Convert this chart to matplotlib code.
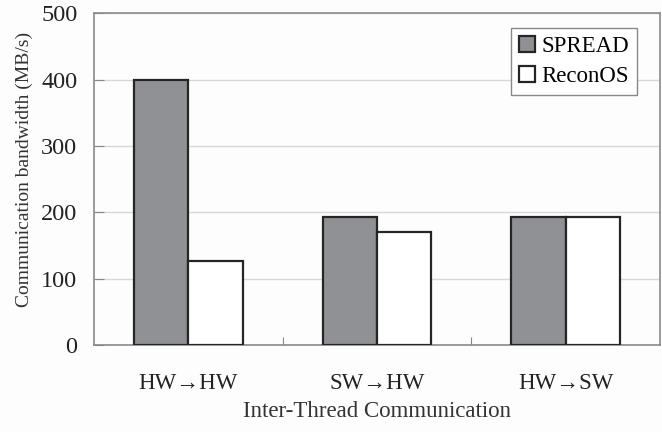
import numpy as np
import matplotlib.pyplot as plt

plt.rcParams['font.family'] = ['Liberation Serif', 'DejaVu Serif']

# data
categories = ['HW→HW', 'SW→HW', 'HW→SW']
spread = [400, 193, 193]
reconos = [127, 171, 193]

fig = plt.figure(figsize=(6.62, 4.32), dpi=100)
fig.patch.set_facecolor('#fdfdfd')
ax = fig.add_axes([0.142, 0.2014, 0.855, 0.768])
ax.set_facecolor('#fdfdfd')

x = np.arange(len(categories))
w = 0.288
ax.bar(x - w / 2, spread, w, color='#909194', edgecolor='#252525', linewidth=1.6,
       label='SPREAD', zorder=3)
ax.bar(x + w / 2, reconos, w, color='white', edgecolor='#252525', linewidth=1.6,
       label='ReconOS', zorder=3)

ax.set_xlim(-0.5, 2.5)
ax.set_ylim(0, 500)
ax.set_yticks([0, 100, 200, 300, 400, 500])
ax.yaxis.grid(True, color='#d8d8d8', linewidth=1.0, zorder=0)

# category labels at centres, tick marks at boundaries
ax.set_xticks([0.5, 1.5])
ax.set_xticklabels([])
ax.set_xticks(x, minor=True)
ax.set_xticklabels(categories, minor=True, fontsize=16.5)
ax.tick_params(axis='x', which='minor', length=0, pad=20)
ax.tick_params(axis='x', which='major', direction='in', length=6, color='#888888')
ax.tick_params(axis='y', direction='in', length=7, color='#888888', labelsize=17.5, pad=12)

for s in ax.spines.values():
    s.set_color('#8a8a8a')
    s.set_linewidth(1.2)

ax.set_ylabel('Communication bandwidth (MB/s)', fontsize=14, color='#333333')
ax.yaxis.set_label_coords(-0.108, 0.53)
ax.set_xlabel('Inter-Thread Communication', fontsize=16.5, color='#333333', labelpad=5)
for lbl in ax.get_xticklabels(minor=True) + ax.get_yticklabels():
    lbl.set_color('#222222')

leg = ax.legend(loc='upper right', bbox_to_anchor=(0.96, 0.955), fontsize=16.5,
                frameon=True, fancybox=False, handlelength=0.7, handleheight=0.7,
                handletextpad=0.3, borderpad=0.35, labelspacing=0.4, borderaxespad=0)
leg.get_frame().set_edgecolor('#888888')
leg.get_frame().set_linewidth(1.0)
leg.get_frame().set_facecolor('white')
leg.get_frame().set_alpha(1)

fig.savefig('out.png', dpi=100, facecolor=fig.get_facecolor())
